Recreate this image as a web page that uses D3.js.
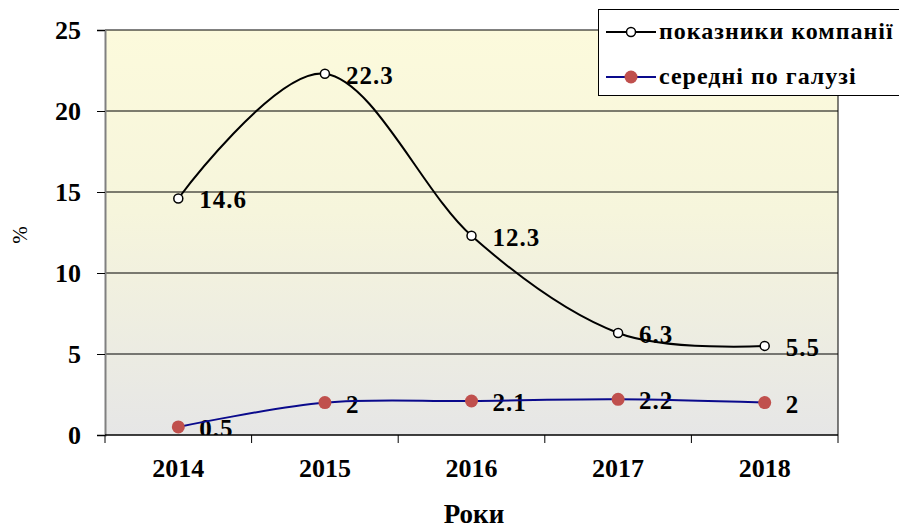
<!DOCTYPE html>
<html>
<head>
<meta charset="utf-8">
<script src="https://cdn.jsdelivr.net/npm/d3@7"></script>
<style>
  body { margin: 0; background: #fff; }
  text { font-family: "Liberation Serif", "Times New Roman", serif; }
</style>
</head>
<body>
<div id="chart"></div>
<script>
// data
const years = ['2014', '2015', '2016', '2017', '2018'];
const company = [14.6, 22.3, 12.3, 6.3, 5.5];
const industry = [0.5, 2, 2.1, 2.2, 2];
const yTicks = [0, 5, 10, 15, 20, 25];
const seriesNames = ['показники компанії', 'середні по галузі'];

const W = 899, H = 528;
const margin = { top: 30, right: 61, bottom: 93, left: 105 };
const width = W - margin.left - margin.right;
const height = H - margin.top - margin.bottom;

const svg = d3.select('#chart')
  .append('svg')
  .attr('width', W)
  .attr('height', H);

// background gradient of plot area
const defs = svg.append('defs');
const grad = defs.append('linearGradient')
  .attr('id', 'bg')
  .attr('x1', 0).attr('y1', 0).attr('x2', 0).attr('y2', 1);
grad.append('stop').attr('offset', '0%').attr('stop-color', '#fcfadc');
grad.append('stop').attr('offset', '45%').attr('stop-color', '#f6f5dc');
grad.append('stop').attr('offset', '100%').attr('stop-color', '#e6e6e6');
defs.append('clipPath').attr('id', 'clip')
  .append('rect').attr('width', width).attr('height', height);

const g = svg.append('g')
  .attr('transform', `translate(${margin.left}, ${margin.top})`);

const x = d3.scaleBand().domain(years).range([0, width]);
const y = d3.scaleLinear().domain([0, 25]).range([height, 0]);
const cx = d => x(d) + x.bandwidth() / 2;

g.append('rect')
  .attr('width', width)
  .attr('height', height)
  .attr('fill', 'url(#bg)');

// grid lines
g.selectAll('.grid')
  .data(yTicks.filter(d => d > 0))
  .enter()
  .append('line')
  .attr('x1', 0).attr('x2', width)
  .attr('y1', d => y(d)).attr('y2', d => y(d))
  .attr('stroke', '#000')
  .attr('stroke-width', 1);

// right border
g.append('line')
  .attr('x1', width).attr('x2', width)
  .attr('y1', 0).attr('y2', height)
  .attr('stroke', '#000');

// Y axis
const yAxis = g.append('g')
  .call(d3.axisLeft(y).tickValues(yTicks).tickSize(8).tickPadding(16));
yAxis.select('.domain').attr('stroke', '#808080').attr('stroke-width', 2);
yAxis.selectAll('.tick line').attr('stroke', '#000');
yAxis.selectAll('text')
  .style('font-family', '"Liberation Serif", serif')
  .style('font-size', '26px')
  .style('font-weight', 'bold')
  .attr('fill', '#000');

// X axis with ticks between categories
const xAxis = g.append('g')
  .attr('transform', `translate(0, ${height})`);
xAxis.append('line')
  .attr('x1', 0).attr('x2', width)
  .attr('stroke', '#000').attr('stroke-width', 1.5);
xAxis.selectAll('.xt')
  .data(years.map(d => x(d)).concat([width]))
  .enter()
  .append('line')
  .attr('x1', d => d).attr('x2', d => d)
  .attr('y1', 0).attr('y2', 8)
  .attr('stroke', '#000');
xAxis.selectAll('.xl')
  .data(years)
  .enter()
  .append('text')
  .attr('x', d => cx(d))
  .attr('y', 42)
  .attr('text-anchor', 'middle')
  .style('font-size', '26px')
  .style('font-weight', 'bold')
  .text(d => d);

// axis titles
svg.append('text')
  .attr('transform', 'translate(27, 235) rotate(-90)')
  .attr('text-anchor', 'middle')
  .style('font-size', '21px')
  .text('%');
svg.append('text')
  .attr('x', 474)
  .attr('y', 523)
  .attr('text-anchor', 'middle')
  .style('font-size', '27px')
  .style('font-weight', 'bold')
  .text('Роки');

// value labels (under the lines)
const labels = g.append('g').attr('clip-path', 'url(#clip)');
[company, industry].forEach(vals => {
  labels.selectAll(null)
    .data(vals)
    .enter()
    .append('text')
    .attr('x', (d, i) => cx(years[i]) + 21)
    .attr('y', d => y(d) + 10)
    .style('font-size', '25px')
    .style('font-weight', 'bold')
    .style('letter-spacing', '1px')
    .text(d => d);
});

const line = d3.line()
  .x((d, i) => cx(years[i]))
  .y(d => y(d))
  .curve(d3.curveCardinal.tension(0));

g.append('path')
  .datum(company)
  .attr('d', line)
  .attr('fill', 'none')
  .attr('stroke', '#000')
  .attr('stroke-width', 2);
g.append('path')
  .datum(industry)
  .attr('d', line)
  .attr('fill', 'none')
  .attr('stroke', '#0a0a8c')
  .attr('stroke-width', 2);

g.selectAll('.mc')
  .data(company)
  .enter()
  .append('circle')
  .attr('cx', (d, i) => cx(years[i]))
  .attr('cy', d => y(d))
  .attr('r', 4.5)
  .attr('fill', '#fff')
  .attr('stroke', '#000')
  .attr('stroke-width', 1.5);
g.selectAll('.mi')
  .data(industry)
  .enter()
  .append('circle')
  .attr('cx', (d, i) => cx(years[i]))
  .attr('cy', d => y(d))
  .attr('r', 6.5)
  .attr('fill', '#c0504d');

// legend
const lg = svg.append('g');
lg.append('rect')
  .attr('x', 598.5).attr('y', 9.5)
  .attr('width', 310).attr('height', 86)
  .attr('fill', '#fff')
  .attr('stroke', '#000');
const items = [
  { name: seriesNames[0], ly: 32, color: '#000', fill: '#fff', r: 4.5 },
  { name: seriesNames[1], ly: 77, color: '#0a0a8c', fill: '#c0504d', r: 6.5 }
];
items.forEach(it => {
  lg.append('line')
    .attr('x1', 606).attr('x2', 656)
    .attr('y1', it.ly).attr('y2', it.ly)
    .attr('stroke', it.color).attr('stroke-width', 2);
  lg.append('circle')
    .attr('cx', 631).attr('cy', it.ly).attr('r', it.r)
    .attr('fill', it.fill)
    .attr('stroke', it.fill === '#fff' ? '#000' : 'none')
    .attr('stroke-width', 1.5);
  lg.append('text')
    .attr('x', 659).attr('y', it.ly + 7)
    .style('font-size', '24px')
    .style('font-weight', 'bold')
    .style('letter-spacing', '1px')
    .text(it.name);
});
</script>
</body>
</html>
